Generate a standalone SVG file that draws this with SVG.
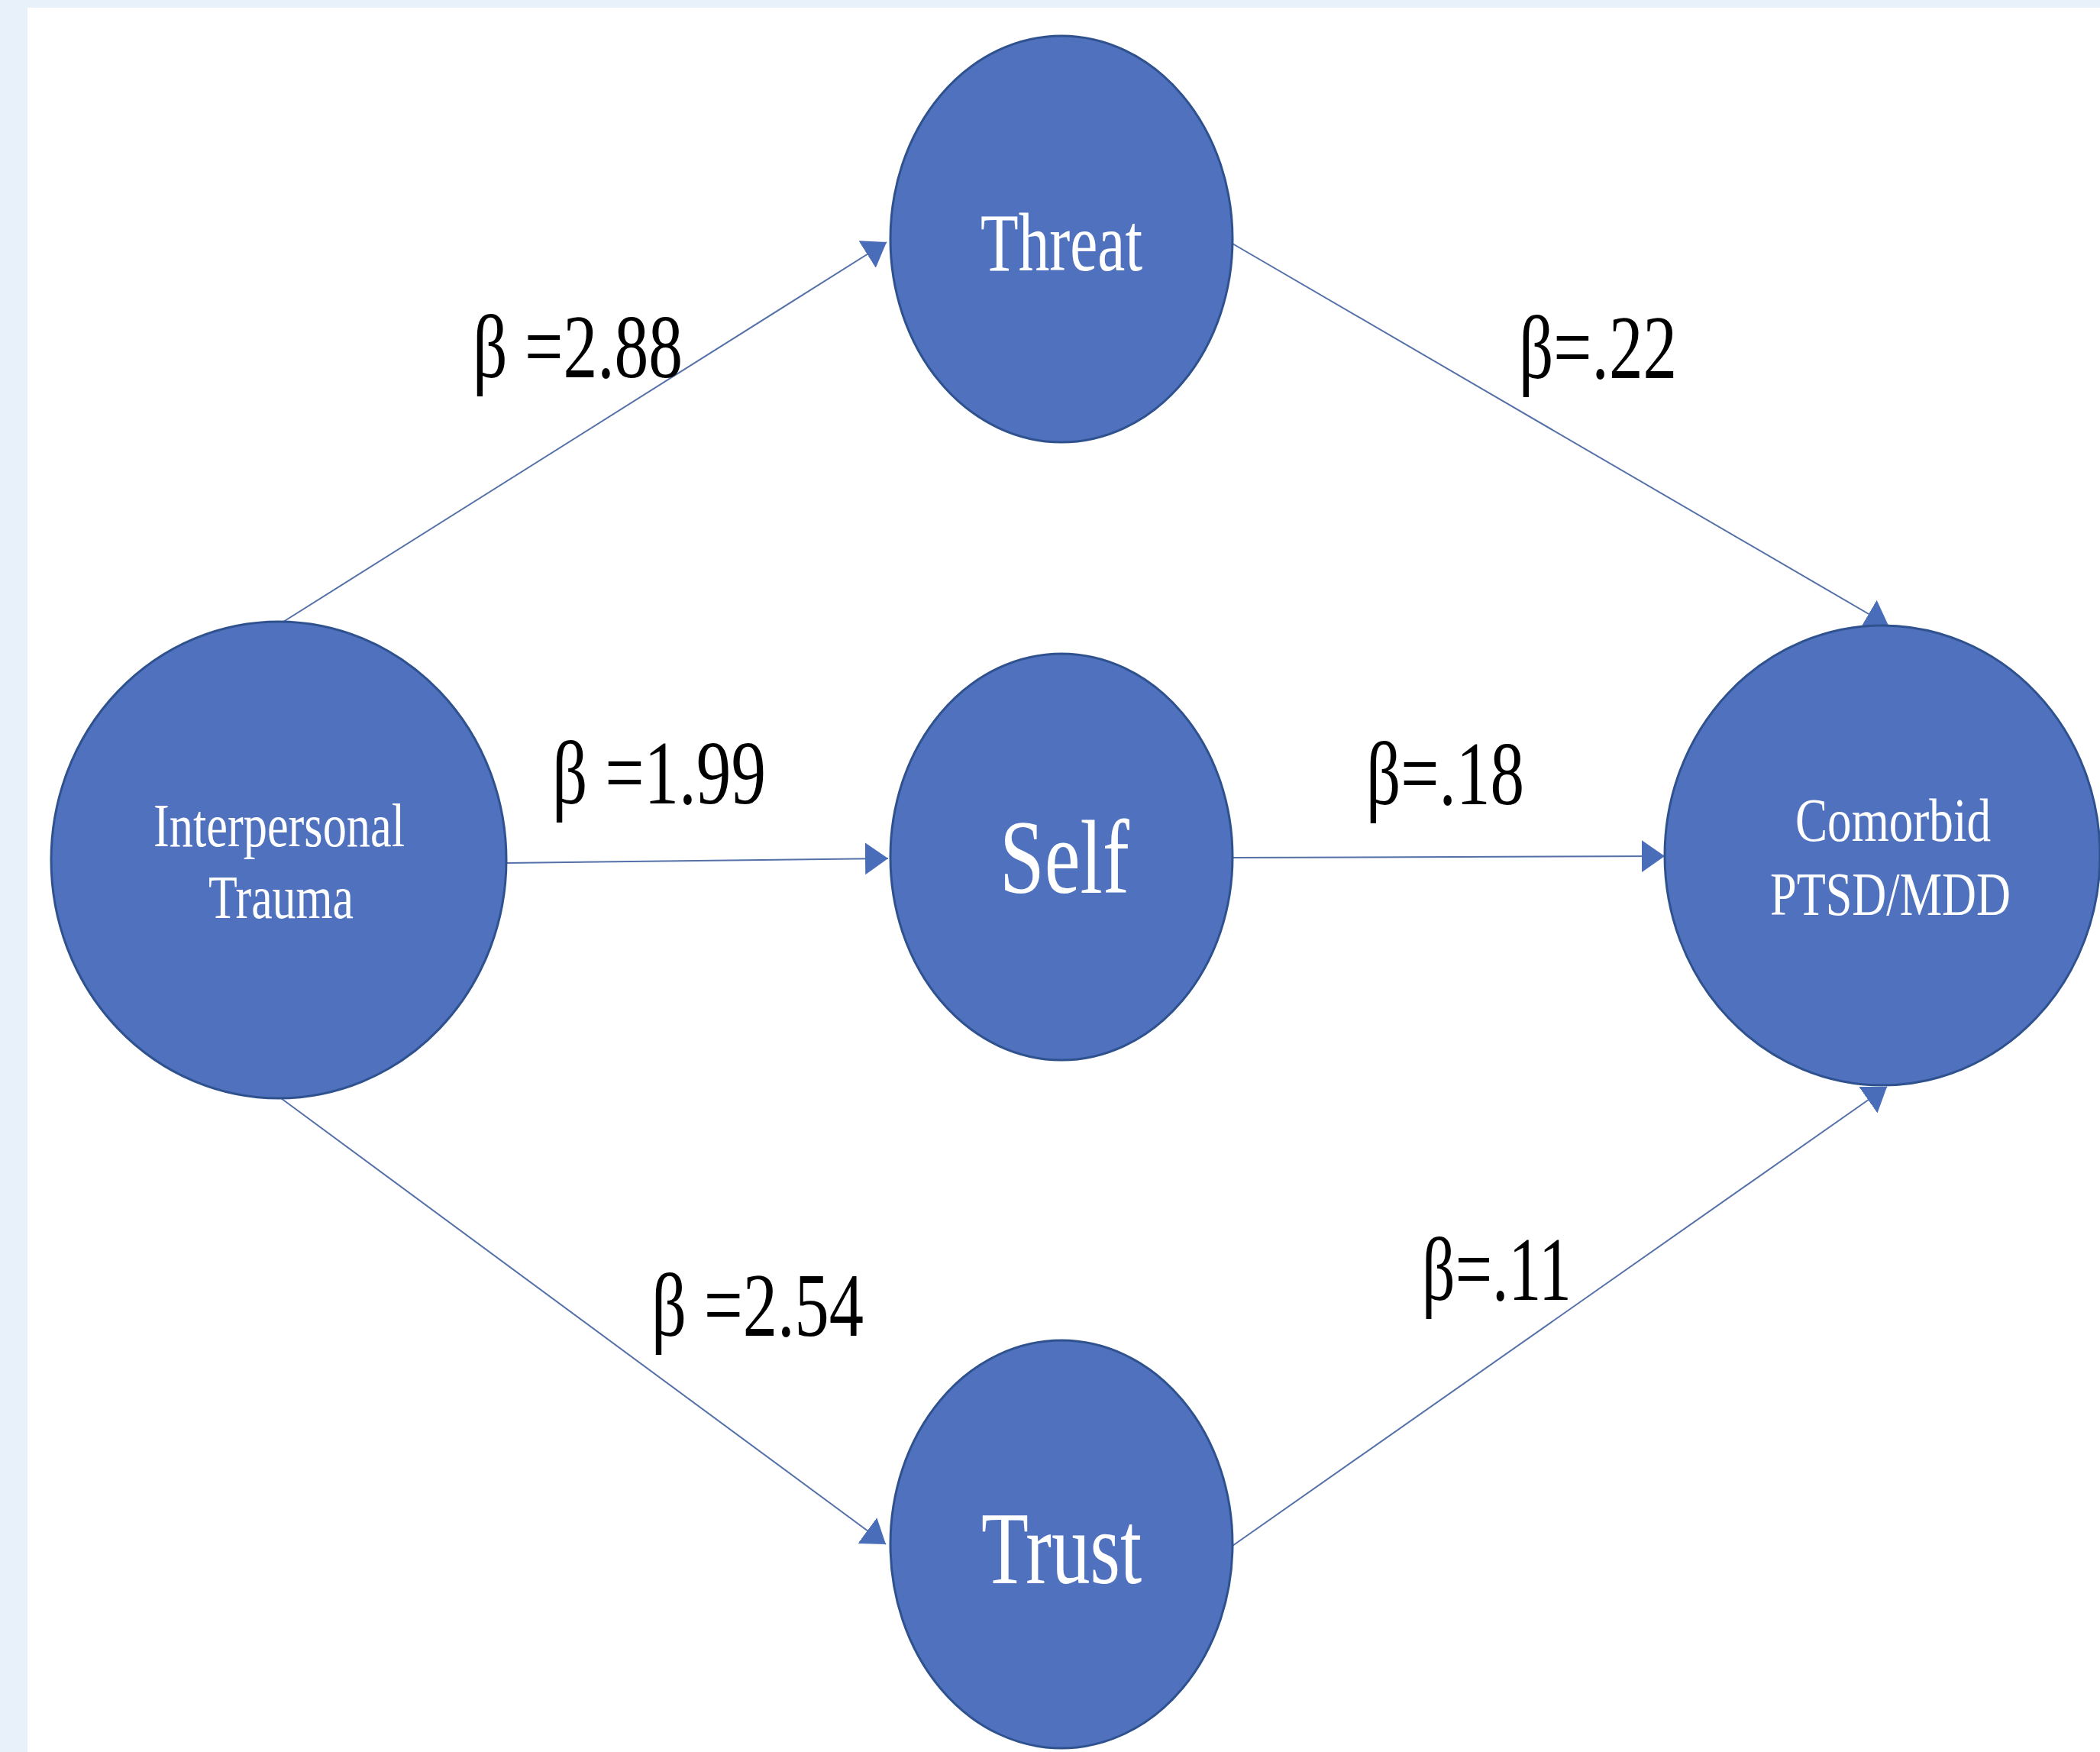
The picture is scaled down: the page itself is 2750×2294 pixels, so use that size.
<svg xmlns="http://www.w3.org/2000/svg" width="2750" height="2294" viewBox="0 0 2750 2294">
<style>
.node{fill:#4F71BE;stroke:#2F528F;stroke-width:3}
.nt{font-family:"Liberation Serif","Times New Roman",serif;fill:#ffffff}
.lbl{font-family:"Liberation Serif","Times New Roman",serif;fill:#000000;font-size:118px}
.edge{stroke:#5470A8;stroke-width:2;fill:none;marker-end:url(#arr)}
</style>
<defs>
<marker id="arr" markerUnits="userSpaceOnUse" markerWidth="32" markerHeight="44" refX="30" refY="21" orient="auto">
<path d="M0,0 L30,21 L0,42 Z" fill="#4A6DBA"/>
</marker>
</defs>
<rect x="0" y="0" width="2750" height="2294" fill="#E8F1F9"/>
<rect x="36" y="10" width="2714" height="2284" fill="#ffffff"/>
<g id="connectors">
<path class="edge" d="M368,816 L1161,317"/>
<path class="edge" d="M1614,319 L2473,819"/>
<path class="edge" d="M663,1130 L1163,1124"/>
<path class="edge" d="M1615,1123 L2180,1121"/>
<path class="edge" d="M368,1438 L1160,2022"/>
<path class="edge" d="M1614,2024 L2471,1423"/>
</g>
<g id="labels">
<text class="lbl" x="619" y="494" textLength="275" lengthAdjust="spacingAndGlyphs">β =2.88</text>
<text class="lbl" x="1989" y="495" textLength="207" lengthAdjust="spacingAndGlyphs">β=.22</text>
<text class="lbl" x="723" y="1052" textLength="280" lengthAdjust="spacingAndGlyphs">β =1.99</text>
<text class="lbl" x="1789" y="1053" textLength="207" lengthAdjust="spacingAndGlyphs">β=.18</text>
<text class="lbl" x="853" y="1749" textLength="278" lengthAdjust="spacingAndGlyphs">β =2.54</text>
<text class="lbl" x="1862" y="1702" textLength="196" lengthAdjust="spacingAndGlyphs">β=.11</text>
</g>
<g id="node-threat">
<ellipse class="node" cx="1390" cy="313" rx="224" ry="266"/>
<text class="nt" x="1284" y="354" font-size="108" textLength="212" lengthAdjust="spacingAndGlyphs">Threat</text>
</g>
<g id="node-self">
<ellipse class="node" cx="1390" cy="1122" rx="224" ry="266"/>
<text class="nt" x="1309" y="1169" font-size="138" textLength="170" lengthAdjust="spacingAndGlyphs">Self</text>
</g>
<g id="node-trust">
<ellipse class="node" cx="1390" cy="2022" rx="224" ry="267"/>
<text class="nt" x="1285" y="2073" font-size="136" textLength="210" lengthAdjust="spacingAndGlyphs">Trust</text>
</g>
<g id="node-trauma">
<ellipse class="node" cx="365" cy="1126" rx="298" ry="312"/>
<text class="nt" x="201" y="1108" font-size="80" textLength="329" lengthAdjust="spacingAndGlyphs">Interpersonal</text>
<text class="nt" x="273" y="1202" font-size="80" textLength="190" lengthAdjust="spacingAndGlyphs">Trauma</text>
</g>
<g id="node-comorbid">
<ellipse class="node" cx="2465" cy="1120" rx="285" ry="301"/>
<text class="nt" x="2351" y="1101" font-size="80" textLength="256" lengthAdjust="spacingAndGlyphs">Comorbid</text>
<text class="nt" x="2318" y="1198" font-size="80" textLength="315" lengthAdjust="spacingAndGlyphs">PTSD/MDD</text>
</g>
</svg>
